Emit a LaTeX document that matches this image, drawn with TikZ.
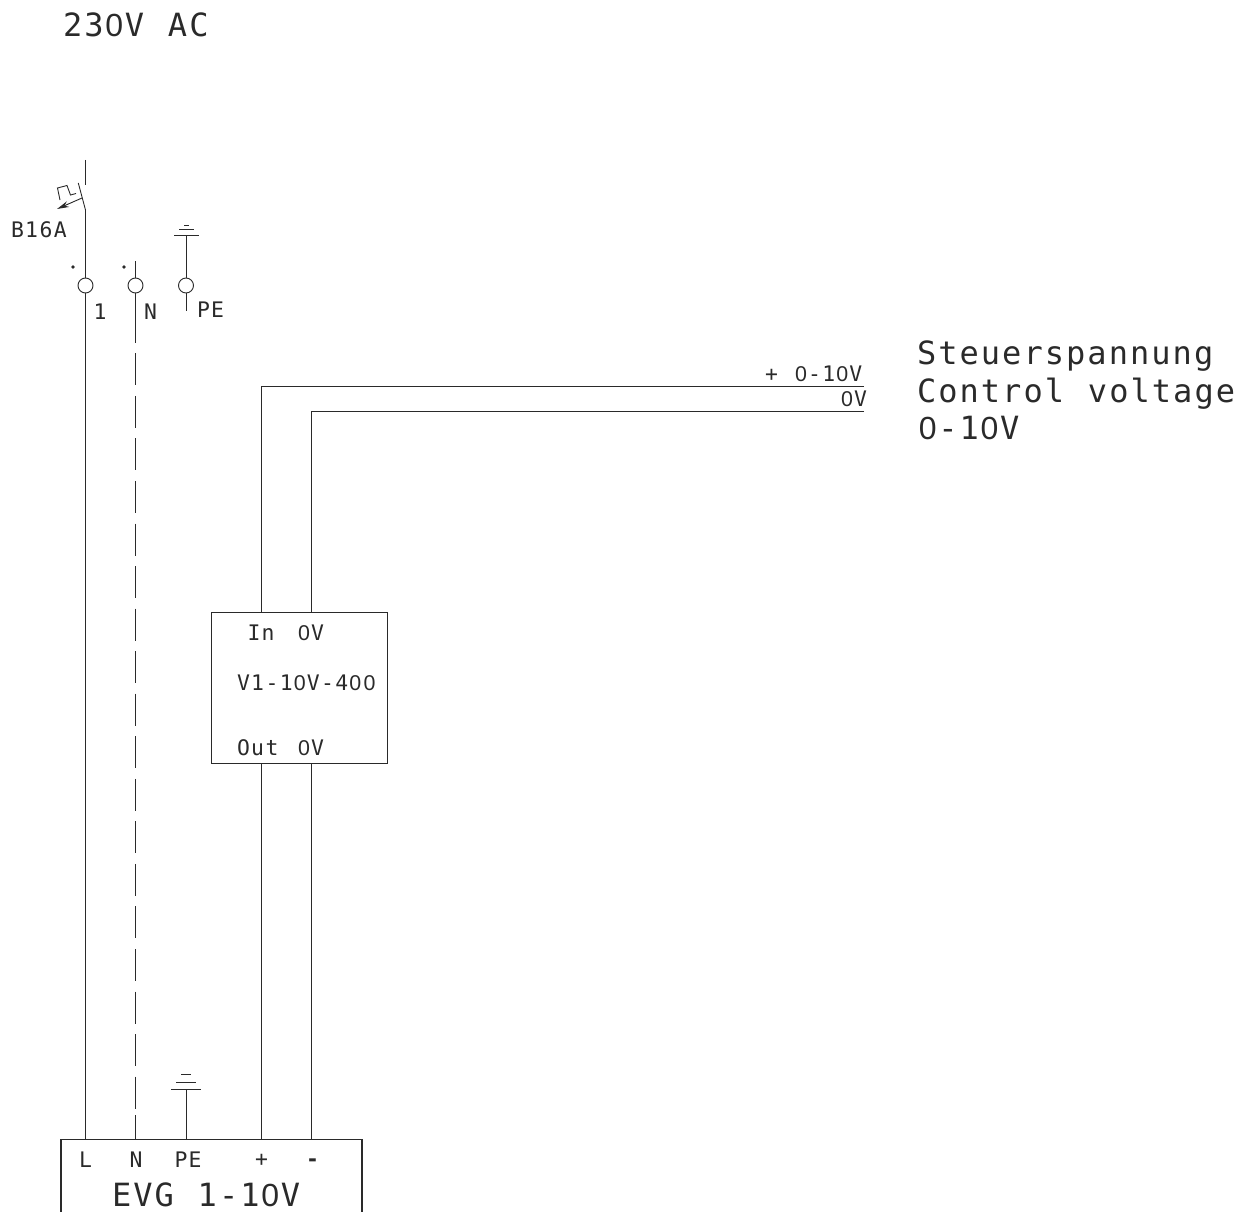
\documentclass[tikz,border=0pt]{standalone}
\usepackage{fontspec}
\usetikzlibrary{arrows.meta}
\newfontfamily\labelmono[LetterSpace=6.4,WordSpace=1.12]{DejaVu Sans Mono}
\newfontfamily\labelsans{Liberation Sans}
\newcommand{\zr}{\makebox[0.665em][c]{\labelsans 0}}
\definecolor{ink}{HTML}{2A2A2A}
\tikzset{
  wire/.style={draw=ink,line width=1.05pt},
  thin wire/.style={draw=ink,line width=0.9pt},
  dash wire/.style={wire,dash pattern=on 32pt off 10.55pt},
  bigtxt/.style={inner sep=0,outer sep=0,anchor=base west,text=ink,font=\labelmono\fontsize{32}{32}\selectfont},
  smalltxt/.style={inner sep=0,outer sep=0,anchor=base west,text=ink,font=\labelmono\fontsize{21.4}{21.4}\selectfont},
  smallmid/.style={inner sep=0,outer sep=0,anchor=base,text=ink,font=\labelmono\fontsize{21.4}{21.4}\selectfont},
  terminal/.style={circle,draw=ink,line width=0.9pt,fill=white,minimum size=15pt,inner sep=0},
  devicebox/.style={rectangle,draw=ink,line width=1pt,minimum width=176pt,minimum height=151pt,inner sep=0},
  dotmark/.style={circle,fill=ink,minimum size=3.6pt,inner sep=0}
}
\begin{document}
\begin{tikzpicture}[x=1pt,y=-1pt]
\useasboundingbox (0,0) rectangle (1251,1212);
% text
\node[bigtxt] (tsupply) at (63,37) {23\zr V AC};
\node[bigtxt] (ts1) at (917,364) {Steuerspannung};
\node[bigtxt] (ts2) at (917,402) {Control voltage};
\node[bigtxt] (ts3) at (917,439) {\zr-1\zr V};
\node[smalltxt] (tctl) at (765,381) {+ \zr-1\zr V};
\node[smalltxt] (tctlz) at (840,406) {\zr V};
\node[smalltxt] (tb) at (11,237) {B16A};
\node[smallmid] (tone) at (100,319) {1};
\node[smallmid] (tn) at (150.5,319) {N};
\node[smalltxt] (tpe) at (197,317) {PE};
% coordinates
\coordinate (Ltop) at (85.5,160);
\coordinate (Lgap) at (85.5,185);
\coordinate (bladeA) at (78.3,183);
\coordinate (bladeB) at (85.5,210);
\coordinate (Ntop) at (135.5,261);
\coordinate (Nsolid) at (135.5,342.7);
\coordinate (Ndash) at (135.5,353.3);
\coordinate (Ndashend) at (135.5,1108.7);
\coordinate (Nlast) at (135.5,1115);
\coordinate (PEend) at (186,311);
\coordinate (PEt) at (186,235);
\coordinate (PEb) at (186,1089);
% terminals
\node[terminal] (c1) at (85.5,285.5) {};
\node[terminal] (c2) at (135.5,285.5) {};
\node[terminal] (c3) at (186,285.5) {};
\node[dotmark] (d1) at (73,267) {};
\node[dotmark] (d2) at (124,267) {};
% breaker
\draw[wire] (Ltop) -- (Lgap);
\draw[thin wire] (bladeA) -- (bladeB);
\draw[wire] (bladeB) -- (c1.north);
\draw[thin wire] (60,200) -- (57.5,188) -- (67,185.5) -- (70.5,195) -- (76,193.5);
\coordinate (arrA) at (82,198);
\coordinate (arrB) at (57,209);
\draw[thin wire,-{Stealth[length=12pt,width=6pt]}] (arrA) -- (arrB);
% neutral
\draw[wire] (Ntop) -- (c2.north);
\draw[wire] (c2.south) -- (Nsolid);
% PE top
\draw[thin wire] (PEt) -- (c3.north);
\draw[thin wire] (c3.south) -- (PEend);
\draw[thin wire] (174,235) -- (199,235);
\draw[thin wire] (179,229) -- (194,229);
\draw[thin wire] (184,225) -- (189,225);
% module
\node[devicebox] (mod) at (299,687.5) {};
\node[smalltxt] (tin) at (247.5,640) {In};
\node[smalltxt] (tinz) at (297,640) {\zr V};
\node[smalltxt] (tname) at (237,690) {V1-1\zr V-4\zr\zr};
\node[smalltxt] (tout) at (237,755) {Out};
\node[smalltxt] (toutz) at (297,755) {\zr V};
% EVG
\coordinate (eA) at (61,1212);
\coordinate (eB) at (61,1139.5);
\coordinate (eC) at (362,1139.5);
\coordinate (eD) at (362,1212);
\draw[wire] (eA) -- (eB) -- (eC) -- (eD);
\node[smallmid] (te1) at (85.5,1167) {L};
\node[smallmid] (te2) at (136,1167) {N};
\node[smalltxt] (te3) at (174.5,1167) {PE};
\node[smallmid] (te4) at (261.5,1166) {+};
\node[smallmid,font=\labelmono\bfseries\fontsize{21.4}{21.4}\selectfont] (te5) at (312.5,1166) {-};
\node[bigtxt] (tevg) at (112,1206) {EVG 1-1\zr V};
\coordinate (eL) at (85.5,1139.5);
\coordinate (eN) at (135.5,1139.5);
\coordinate (eP) at (186,1139.5);
\coordinate (eP1) at (261.5,1139.5);
\coordinate (eM1) at (311.5,1139.5);
\draw[wire] (c1.south) -- (eL);
\draw[dash wire] (Ndash) -- (Ndashend);
\draw[wire] (Nlast) -- (eN);
\draw[thin wire] (PEb) -- (eP);
\draw[thin wire] (171,1089) -- (201,1089);
\draw[thin wire] (176,1082) -- (196,1082);
\draw[thin wire] (181,1074) -- (191,1074);
% control wires
\coordinate (ctlA) at (864,386.5);
\coordinate (ctlB) at (864,411.5);
\coordinate (cornerA) at (261.5,386.5);
\coordinate (cornerB) at (311.5,411.5);
\draw[wire] (ctlA) -- (cornerA) -- (cornerA |- mod.north);
\draw[wire] (ctlB) -- (cornerB) -- (cornerB |- mod.north);
\draw[wire] (eP1 |- mod.south) -- (eP1);
\draw[wire] (eM1 |- mod.south) -- (eM1);
\end{tikzpicture}
\end{document}
